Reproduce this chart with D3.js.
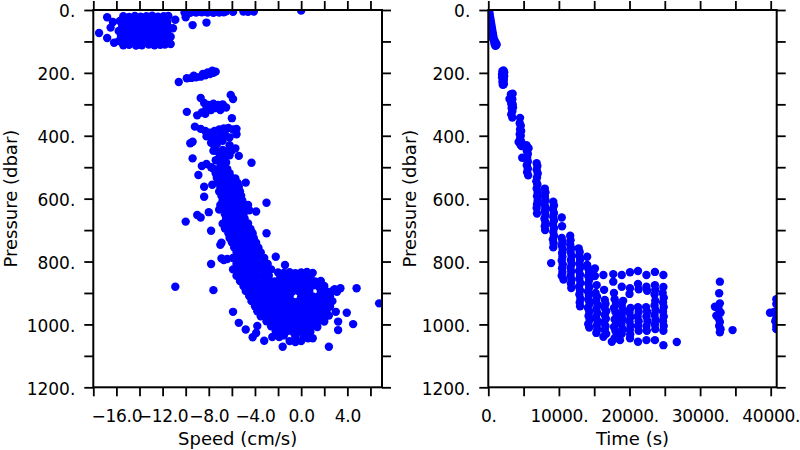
<!DOCTYPE html>
<html><head><meta charset="utf-8">
<script src="https://cdn.jsdelivr.net/npm/d3@7"></script>
<style>body{margin:0;background:#fff}</style>
</head><body><svg id="c" width="800" height="450"></svg>
<script>
// ---------- tick definitions ----------
const pressureTicks = [0,100,200,300,400,500,600,700,800,900,1000,1100,1200];
const pressureLabels = [0,200,400,600,800,1000,1200];
const speedTicks = [-18,-16,-14,-12,-10,-8,-6,-4,-2,0,2,4,6];
const speedLabels = [-16,-12,-8,-4,0,4];
const timeTicks = [0,5000,10000,15000,20000,25000,30000,35000,40000];
const timeLabels = [0,10000,20000,30000,40000];

// ---------- data: [speed (cm/s), pressure (dbar)] ----------
const speedPoints = [
[-15.4,20],[-14.9,22],[-14.4,19],[-13.9,21],[-13.4,20],[-12.9,18],[-12.4,21],[-11.9,20],[-11.5,19],
[-15.7,35],[-15.2,36],[-14.6,34],[-14.1,37],[-13.6,35],[-13.1,33],[-12.6,36],[-12.1,35],[-11.6,38],
[-15.5,51],[-14.9,50],[-14.4,52],[-13.9,49],[-13.4,51],[-12.9,53],[-12.4,50],[-11.9,52],[-11.5,55],
[-15.8,67],[-15.2,66],[-14.7,68],[-14.2,67],[-13.6,65],[-13.1,68],[-12.6,67],[-12.1,66],[-11.6,69],
[-15.6,83],[-15.0,84],[-14.4,82],[-13.9,83],[-13.4,85],[-12.9,82],[-12.4,84],[-11.9,83],[-11.5,81],
[-15.8,99],[-15.2,98],[-14.7,100],[-14.1,99],[-13.6,97],[-13.1,100],[-12.6,99],[-12.1,98],[-11.6,101],
[-15.4,112],[-14.9,111],[-14.3,113],[-13.8,112],[-13.2,110],[-12.7,112],[-12.2,111],[-11.8,110],
[-16.8,23],[-17.5,73],[-16.8,89],[-16.2,104],[-16.3,38],[-16.5,56],[-10.9,31],[-11.1,58],[-11.3,85],[-11.3,108],
[-10.1,8],[-9.6,9],[-9.1,8],[-8.6,7],[-8.1,8],[-7.6,9],[-7.1,8],[-6.7,7],
[-9.8,3],[-9.3,4],[-8.8,3],[-8.3,4],[-7.8,3],[-7.3,4],[-6.9,3],[-6.5,4],
[-5.9,6],[-5.0,5],[-4.6,6],[-4.1,5],[0.0,2],[-10.0,23],[-9.4,48],[-8.2,40],
[-10.6,229],[-9.9,217],[-9.5,216],[-9.1,214],[-8.7,212],[-8.3,208],[-7.9,204],[-7.6,200],[-7.4,196],[-7.7,193],[-8.1,199],[-8.5,203],[-9.3,209],
[-6.1,270],[-5.9,283],[-8.7,280],[-8.4,296],[-8.0,302],[-7.6,298],[-7.2,302],[-6.8,300],[-6.5,310],[-8.2,314],[-7.8,318],[-7.4,312],[-8.6,326],[-9.0,335],[-9.9,324],[-8.3,330],[-6.0,344],[-7.0,318],
[-9.2,371],[-8.7,378],[-8.3,385],[-7.9,390],[-7.5,385],[-7.1,380],[-6.7,377],[-6.3,375],[-5.9,380],[-5.6,378],[-5.6,395],[-8.2,402],[-7.8,406],[-7.4,410],[-7.0,400],[-6.6,395],[-6.2,405],
[-9.4,419],[-9.6,424],[-7.8,422],[-7.3,426],[-6.8,416],[-7.5,436],[-6.2,430],[-5.7,440],
[-7.6,448],[-7.2,452],[-6.8,445],[-6.4,450],[-6.0,446],[-7.0,465],[-6.6,470],[-6.2,462],[-7.4,478],[-7.0,488],[-6.5,485],[-5.4,464],[-4.3,486],[-9.4,472],[-8.6,496],[-8.2,490],[-7.8,500],
[-7.6,505],[-7.2,507],[-6.8,503],[-6.4,506],
[-7.4,520],[-7.0,518],[-6.6,521],[-6.2,519],
[-7.3,534],[-6.9,532],[-6.5,535],[-6.1,533],[-5.7,536],
[-7.2,548],[-6.8,547],[-6.3,549],[-5.9,546],[-5.5,550],[-4.8,549],
[-7.0,562],[-6.6,561],[-6.2,563],[-5.8,560],[-5.4,562],[-8.4,562],[-7.7,556],
[-7.1,577],[-6.7,576],[-6.3,578],[-5.9,575],[-5.3,577],
[-6.9,591],[-6.5,590],[-6.1,592],[-5.7,589],[-5.2,591],[-8.4,594],
[-6.8,606],[-6.4,605],[-6.0,607],[-5.6,604],[-5.1,606],
[-7.0,620],[-6.6,621],[-6.2,619],[-5.8,622],[-5.3,620],[-4.6,620],
[-7.1,635],[-6.7,636],[-6.3,634],[-5.9,637],[-5.4,635],[-5.0,634],[-4.5,637],
[-6.6,650],[-6.2,651],[-5.8,649],[-5.4,652],[-5.0,650],
[-6.5,665],[-6.1,664],[-5.7,666],[-5.3,665],[-4.9,663],
[-6.8,680],[-6.3,681],[-5.9,679],[-5.5,682],[-5.1,680],[-4.6,679],
[-6.6,695],[-6.1,694],[-5.7,696],[-5.3,695],[-4.9,693],[-4.4,696],
[-6.3,710],[-5.9,709],[-5.5,711],[-5.1,710],[-4.7,708],[-4.2,711],
[-6.2,725],[-5.8,724],[-5.4,726],[-5.0,725],[-4.6,723],[-4.1,726],
[-6.9,740],[-6.0,739],[-5.6,741],[-5.2,740],[-4.8,738],[-4.4,741],[-3.9,740],
[-5.8,755],[-5.4,754],[-5.0,756],[-4.6,755],[-4.2,753],[-3.7,756],
[-5.6,770],[-5.2,769],[-4.8,771],[-4.4,770],[-4.0,768],[-3.5,771],
[-6.9,790],[-6.4,792],[-5.9,789],[-5.4,791],[-5.0,790],[-4.6,788],[-4.2,791],[-3.8,790],[-3.2,789],
[-5.6,808],[-5.1,807],[-4.7,809],[-4.3,808],[-3.9,806],[-3.4,809],[-2.9,808],
[-5.9,825],[-5.4,826],[-4.9,824],[-4.5,826],[-4.1,825],[-3.6,823],[-3.1,826],[-2.6,825],
[-5.6,845],[-5.2,844],[-4.7,846],[-4.3,845],[-3.8,843],[-3.3,846],[-2.8,845],
[-10.0,673],[-9.0,652],[-8.7,660],[-8.0,643],[-7.8,702],[-8.9,525],[-3.0,613],[-3.9,641],[-3.0,710],[-2.2,785],[-1.4,811],[-7.8,808],[-7.6,891],[-10.9,880],[-6.7,795],[-7.0,747],[-4.3,705],
[-2.0,835],[-1.5,836],[-1.0,834],[-0.5,837],[0.0,835],[0.5,833],[1.0,836],
[-1.8,850],[-1.2,851],[-0.7,849],[-0.2,852],[0.3,850],[0.8,849],
[-5.3,862],[-4.8,863],[-4.3,861],[-3.8,864],[-3.3,862],[-2.8,860],[-2.3,863],[-1.8,862],[-1.3,864],[-0.8,861],[-0.3,863],[0.2,862],[0.7,860],[1.2,863],[1.7,862],
[-5.0,878],[-4.5,879],[-4.0,877],[-3.5,880],[-3.0,878],[-2.5,876],[-2.0,879],[-1.5,878],[-1.0,880],[-0.5,877],[0.0,879],[0.5,878],[1.0,876],[1.5,879],[2.0,878],
[-4.8,894],[-4.3,895],[-3.8,893],[-3.3,896],[-2.8,894],[-2.3,892],[-1.8,895],[-1.3,894],[-0.8,896],[-0.3,893],[0.2,895],[0.7,894],[1.7,892],[2.2,895],[2.7,894],
[-4.5,910],[-4.0,911],[-3.5,909],[-3.0,912],[-2.5,910],[-2.0,908],[-1.5,911],[-1.0,910],[0.0,912],[0.5,909],[1.0,911],[1.5,910],[2.0,908],[2.5,911],
[-4.3,926],[-3.8,927],[-3.3,925],[-2.8,928],[-2.3,926],[-1.8,924],[-1.3,927],[-0.8,926],[-0.3,928],[0.2,925],[0.7,927],[1.2,926],[1.7,924],[2.2,927],[2.7,926],
[-4.0,942],[-3.5,943],[-3.0,941],[-2.5,944],[-2.0,942],[-1.5,940],[-1.0,943],[-0.5,942],[0.0,944],[0.5,941],[1.0,943],[1.5,942],[2.0,940],[2.5,943],
[-3.8,958],[-3.3,959],[-2.8,957],[-2.3,960],[-1.8,958],[-1.3,956],[-0.8,959],[-0.3,958],[0.2,960],[0.7,957],[1.2,959],[1.7,958],[2.2,956],
[-3.5,974],[-3.0,975],[-2.5,973],[-2.0,976],[-1.5,974],[-1.0,972],[-0.5,975],[0.0,974],[0.5,976],[1.0,973],[1.5,975],[2.0,974],[2.4,972],
[-3.0,990],[-2.5,991],[-2.0,989],[-1.5,992],[-1.0,990],[-0.5,988],[0.0,991],[0.5,990],[1.0,992],[1.5,989],[2.0,991],
[-2.6,1006],[-2.1,1007],[-1.6,1005],[-1.1,1008],[-0.6,1006],[-0.1,1004],[0.4,1007],[0.9,1006],[1.4,1008],
[-2.2,1022],[-1.7,1023],[-1.2,1021],[-0.7,1024],[-0.2,1022],[0.3,1020],[0.8,1023],
[-5.9,960],[-5.4,995],[-4.8,1016],[-4.2,1041],[-3.9,1027],[-3.8,1005],[-3.2,1052],[-2.5,1040],[-1.9,1040],[-1.6,1071],[-1.0,1053],[-0.5,1056],[0.0,1053],[0.6,1044],[1.0,1044],[2.4,1071],
[3.1,896],[3.4,885],[4.8,885],[3.95,963],[4.5,999],[3.2,991],[3.2,1018],[3.0,960],[6.75,933],[2.9,888],[-1.5,1035],[0.2,1035],[-0.5,1038]
];

// ---------- data: [time (s), pressure (dbar)] ----------
const timePoints = [
[100,0],[150,8],[200,16],[260,24],[320,32],[380,40],[440,48],[500,56],[560,64],[620,72],[680,80],[740,88],[800,96],[860,104],[920,110],[1000,114],[1100,112],[1180,110],[700,92],[900,98],[1050,104],[600,78],
[2000,195],[2150,192],[2250,198],[1950,205],[2100,205],[2250,210],[1950,215],[2100,218],[2200,222],[2000,228],[2150,232],[2050,238],[2200,236],
[3200,268],[3450,266],[3000,283],[3150,285],[3400,284],[3250,298],[3450,300],[3300,312],[3400,322],[3250,332],[3400,342],[3300,290],[3500,310],
[4500,343],[4450,360],[4600,368],[4500,380],[4650,385],[4450,395],[4600,400],[4500,410],[4650,418],[4550,428],[4700,433],[4300,420],
[4800,470],[5400,430],[5550,436],[5450,448],[5600,458],[5500,470],[5600,482],[5450,494],[5600,505],[5500,516],[5650,526],[5700,440],
[6850,487],[6950,496],[6850,508],[7000,520],[6900,533],[6800,545],[6950,555],[6850,568],[7000,580],[6900,592],[7000,605],[6900,618],[6850,630],[6900,647],
[8000,568],[8100,580],[8000,592],[8100,605],[7950,618],[8100,628],[8000,640],[8100,652],[7950,664],[8100,676],[8000,688],[8050,700],
[9200,610],[9300,622],[9150,634],[9300,646],[9200,658],[9300,670],[9150,682],[9300,694],[9200,706],[9300,718],[9150,730],[9250,742],[9200,755],[8900,805],
[10400,660],[10450,688],[10400,725],[10500,737],[10400,749],[10550,761],[10450,773],[10500,785],[10400,797],[10550,809],[10450,821],[10500,833],[10400,845],[10650,857],
[11600,718],[11650,732],[11600,746],[11750,758],[11650,770],[11800,782],[11700,795],[11800,808],[11650,820],[11750,832],[11650,845],[11800,858],[11700,870],[11750,884],
[12800,758],[12950,770],[12850,782],[13000,794],[12900,806],[13050,818],[12850,830],[13000,842],[12900,855],[13050,868],[12850,880],[13000,892],[12900,905],[13050,918],[12950,930],[13000,942],
[14000,785],[14000,811],[14150,822],[14300,834],[14150,846],[14300,858],[14150,870],[14300,882],[14100,895],[14250,908],[14150,921],[14350,934],[14100,947],[14300,960],[14200,973],[14350,986],[14150,999],[14300,1010],
[15100,822],[15100,846],[15350,875],[15200,900],[15400,912],[15250,925],[15500,938],[15300,951],[15450,964],[15250,977],[15500,990],[15350,1003],[15450,1016],[15300,1027],
[16300,843],[16400,890],[16500,922],[16600,934],[16450,946],[16700,958],[16500,970],[16650,982],[16400,994],[16600,1006],[16500,1018],[16700,1030],[16300,1039],
[17700,840],[17700,864],[17800,900],[17900,920],[18100,934],[17800,948],[18000,960],[18200,972],[17900,984],[18100,996],[17800,1008],[18000,1020],[18200,1032],[17900,1044],[17500,1055],[18650,1050],
[18900,843],[18900,880],[19100,925],[18900,940],[19100,955],[18900,970],[19050,985],[18850,1000],[19050,1015],[18900,1030],
[20070,834],[20070,885],[20000,903],[20150,948],[20000,962],[20150,976],[20000,990],[20150,1004],[20050,1018],[20100,1032],[20070,1044],
[21200,830],[21200,871],[21300,888],[21200,945],[21300,960],[21150,975],[21300,990],[21200,1005],[21300,1020],[21200,1055],
[22400,843],[22400,880],[22500,893],[22350,945],[22500,960],[22400,975],[22550,990],[22400,1005],[22450,1020],[22400,1050],
[23600,833],[23600,875],[23650,890],[23550,905],[23650,925],[23550,940],[23700,955],[23550,970],[23700,985],[23600,1000],[23650,1015],[23600,1050],
[24800,843],[24800,881],[24700,900],[24850,915],[24750,930],[24850,945],[24750,960],[24850,975],[24750,990],[24850,1005],[24800,1020],[24800,1066],
[26700,1056],
[32800,864],[32700,901],[32800,933],[32100,944],[32600,950],[32900,962],[32300,972],[32600,980],[32800,992],[32700,1005],[32900,1015],[32800,1025],[34600,1018],
[40800,920],[40800,935],[40500,960],[40700,965],[39900,963],[40800,980],[40650,990],[40800,1005],[40800,1015]
];

// ---------- drawing ----------
const svg = d3.select("#c");
const FONT = "DejaVu Sans";
const yTop = 10, yBot = 387.3;
const yScale = d3.scaleLinear().domain([0,1200]).range([yTop, yBot]);

function panel(id, x0, x1, xDomain, xTicks, xLabels, xFmt, pts, xTitle, yTitleX) {
  const x = d3.scaleLinear().domain(xDomain).range([x0, x1]);
  const g = svg.append("g");
  g.append("clipPath").attr("id", id).append("rect")
    .attr("x", x0).attr("y", yTop).attr("width", x1 - x0).attr("height", yBot - yTop);
  g.append("g").attr("clip-path", `url(#${id})`).selectAll("circle").data(pts).join("circle")
    .attr("cx", d => x(d[0])).attr("cy", d => yScale(d[1])).attr("r", 4.2).attr("fill", "#0000ff");

  const style = sel => {
    sel.select(".domain").remove();
    sel.selectAll(".tick line").attr("stroke", "#000").attr("stroke-width", 1.8);
    sel.attr("font-family", FONT).attr("font-size", 17);
    sel.selectAll(".tick text").attr("fill", "#000");
  };
  g.append("g").attr("transform", `translate(0,${yBot})`)
    .call(d3.axisBottom(x).tickValues(xTicks).tickSize(9).tickPadding(14).tickSizeOuter(0)
      .tickFormat(d => xLabels.includes(d) ? xFmt(d) : "")).call(style)
    .selectAll(".tick text").attr("letter-spacing", -0.3);
  g.append("g").attr("transform", `translate(0,${yTop})`)
    .call(d3.axisTop(x).tickValues(xTicks).tickSize(9).tickSizeOuter(0).tickFormat("")).call(style);
  g.append("g").attr("transform", `translate(${x0},0)`)
    .call(d3.axisLeft(yScale).tickValues(pressureTicks).tickSize(9).tickPadding(9).tickSizeOuter(0)
      .tickFormat(d => pressureLabels.includes(d) ? d + "." : "")).call(style)
    .selectAll(".tick text").attr("dy", "0.4em");
  g.append("g").attr("transform", `translate(${x1},0)`)
    .call(d3.axisRight(yScale).tickValues(pressureTicks).tickSize(9).tickSizeOuter(0).tickFormat("")).call(style);

  g.append("rect").attr("x", x0).attr("y", yTop).attr("width", x1 - x0).attr("height", yBot - yTop)
    .attr("fill", "none").attr("stroke", "#000").attr("stroke-width", 2);

  g.append("text").attr("x", (x0 + x1) / 2).attr("y", 445).attr("text-anchor", "middle")
    .attr("font-family", FONT).attr("font-size", 18).text(xTitle);
  g.append("text").attr("transform", `translate(${yTitleX},${(yTop + yBot) / 2}) rotate(-90)`)
    .attr("text-anchor", "middle").attr("font-family", FONT).attr("font-size", 18).text("Pressure (dbar)");
}

panel("clipL", 93.3, 382, [-18, 7], speedTicks, speedLabels, d3.format(".1f"), speedPoints, "Speed (cm/s)", 17);
panel("clipR", 488.3, 776.7, [0, 40850], timeTicks, timeLabels, d => d + ".", timePoints, "Time (s)", 416);
</script></body></html>
